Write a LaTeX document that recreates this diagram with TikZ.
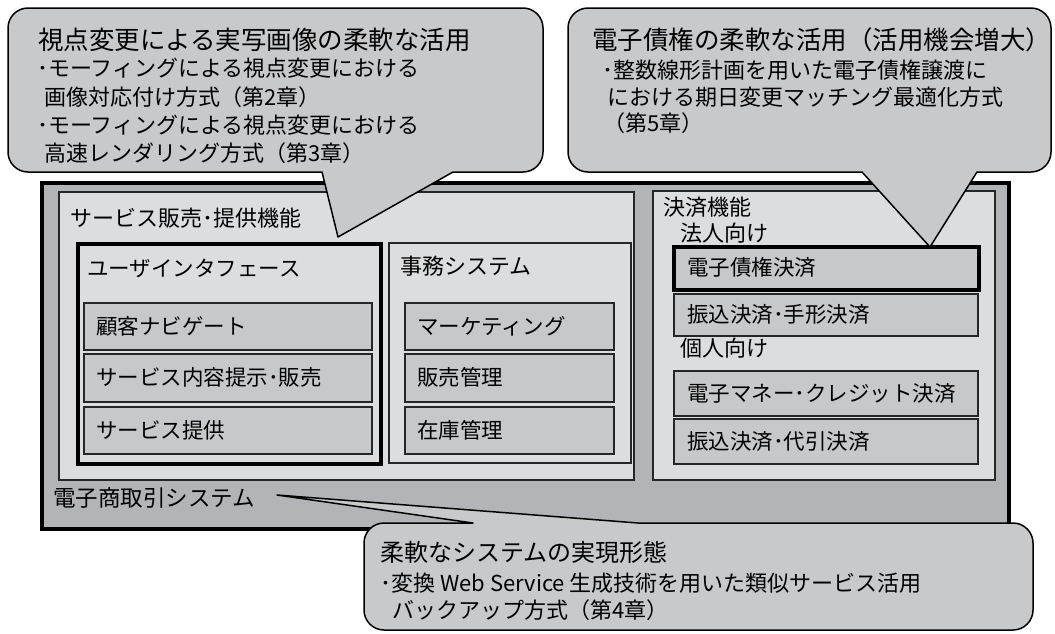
\documentclass[tikz,border=0pt]{standalone}
\usepackage{fontspec}
\setmainfont{Noto Sans CJK JP}
\definecolor{outerfill}{RGB}{179,180,183}
\definecolor{contfill}{RGB}{220,221,223}
\definecolor{itemfill}{RGB}{199,200,202}
\definecolor{bubfill}{RGB}{200,201,203}
\tikzset{
  boxbase/.style={anchor=north west, inner sep=0pt, rectangle},
  thickframe/.style={boxbase, draw=black, line width=4pt},
  contbox/.style={boxbase, draw=black!85, line width=1.5pt, fill=contfill},
  itembox/.style={boxbase, draw=black!85, line width=2pt, fill=itemfill},
  lbl/.style={anchor=west, inner sep=0pt, font=\fontsize{21.5}{24}\selectfont},
  hlbl/.style={anchor=west, inner sep=0pt, font=\fontsize{22}{26}\selectfont},
  btitle/.style={anchor=west, inner sep=0pt, font=\fontsize{25.5}{30}\selectfont},
  bline/.style={anchor=west, inner sep=0pt, font=\fontsize{22}{26}\selectfont},
  bubble/.style={draw=black, line width=1.5pt, fill=bubfill, line join=round},
}
\newcommand\mkbox[6]{\node[#1, minimum width={(#5-#3)*1pt}, minimum height={(#6-#4)*1pt}] (#2) at (#3,#4) {};}
\begin{document}
\begin{tikzpicture}[x=1pt,y=-1pt]
\useasboundingbox (0,0) rectangle (1055,633);
\fill[white] (0,0) rectangle (1055,633);
% outer system
\mkbox{thickframe, fill=outerfill}{outer}{40}{181}{1007}{527}
\mkbox{contbox}{svc}{58}{191}{633}{479}
\mkbox{contbox}{office}{388}{242}{630}{462}
\mkbox{thickframe, fill=contfill}{ui}{76}{242}{379}{462}
\mkbox{itembox}{nav}{83}{302}{371}{349}
\mkbox{itembox}{cont}{83}{353}{371}{401}
\mkbox{itembox}{prov}{83}{406}{371}{453}
\mkbox{itembox}{mkt}{404}{302}{613}{349}
\mkbox{itembox}{sales}{404}{353}{613}{401}
\mkbox{itembox}{stock}{404}{406}{613}{453}
\mkbox{contbox}{pay}{652}{190}{994}{479}
\node[hlbl] (lcorp) at (680,233) {法人向け};
\node[hlbl] (lpers) at (680,348) {個人向け};
\mkbox{thickframe, fill=itemfill}{ecb}{672}{245}{977}{288}
\mkbox{itembox}{trans}{673}{293}{977}{335}
\mkbox{itembox}{emoney}{673}{370}{977}{415}
\mkbox{itembox}{cod}{673}{418}{977}{463}
% labels
\node[hlbl] (lsvc) at (70,218) {サービス販売･提供機能};
\node[lbl] (lui) at (87,268) {ユーザインタフェース};
\node[lbl] (lnav) at (96,326) {顧客ナビゲート};
\node[lbl] (lcont) at (96,377) {サービス内容提示･販売};
\node[lbl] (lprov) at (96,430) {サービス提供};
\node[hlbl] (loffice) at (400,266) {事務システム};
\node[lbl] (lmkt) at (417,326) {マーケティング};
\node[lbl] (lsales) at (417,377) {販売管理};
\node[lbl] (lstock) at (417,430) {在庫管理};
\node[hlbl] (lpay) at (663,207) {決済機能};
\node[lbl] (lecb) at (687,267) {電子債権決済};
\node[lbl] (ltrans) at (687,314) {振込決済･手形決済};
\node[lbl] (lemoney) at (687,393) {電子マネー･クレジット決済};
\node[lbl] (lcod) at (687,441) {振込決済･代引決済};
\node[hlbl, font=\fontsize{22.5}{26}\selectfont] (lec) at (53,498) {電子商取引システム};
% bubbles
\coordinate (tipA) at (338,237);
\coordinate (tipB) at (930,247);
\coordinate (tipC) at (277,495);
\draw[bubble] (tipA) -- (322,172) -- (28,172) .. controls (17,172) and (8,163) .. (8,152) -- (8,28) .. controls (8,17) and (17,8) .. (28,8) -- (523,8) .. controls (534,8) and (543,17) .. (543,28) -- (543,152) .. controls (543,163) and (534,172) .. (523,172) -- (453,172) -- cycle;
\draw[bubble] (tipB) -- (862,172) -- (588,172) .. controls (577,172) and (568,163) .. (568,152) -- (568,28) .. controls (568,17) and (577,8) .. (588,8) -- (1031,8) .. controls (1042,8) and (1051,17) .. (1051,28) -- (1051,152) .. controls (1051,163) and (1042,172) .. (1031,172) -- (977,172) -- cycle;
\draw[bubble] (tipC) -- (638,523) -- (1013,523) .. controls (1024,523) and (1033,532) .. (1033,543) -- (1033,610) .. controls (1033,621) and (1024,630) .. (1013,630) -- (384,630) .. controls (373,630) and (364,621) .. (364,610) -- (364,543) .. controls (364,532) and (373,523) .. (384,523) -- (473,523) -- cycle;
% bubble texts
\node[btitle] (a0) at (38,40) {視点変更による実写画像の柔軟な活用};
\node[bline] (a1) at (37,68) {･モーフィングによる視点変更における};
\node[bline] (a2) at (44,97) {画像対応付け方式（第2章）};
\node[bline] (a3) at (37,125) {･モーフィングによる視点変更における};
\node[bline] (a4) at (44,153) {高速レンダリング方式（第3章）};
\node[btitle] (b0) at (592,40) {電子債権の柔軟な活用（活用機会増大）};
\node[bline] (b1) at (602,70) {･整数線形計画を用いた電子債権譲渡に};
\node[bline] (b2) at (607,97) {における期日変更マッチング最適化方式};
\node[bline] (b3) at (603,123) {（第5章）};
\node[btitle, font=\fontsize{24}{28}\selectfont] (c0) at (380,552) {柔軟なシステムの実現形態};
\node[bline] (c1) at (380,583) {･変換 Web Service 生成技術を用いた類似サービス活用};
\node[bline] (c2) at (392,610) {バックアップ方式（第4章）};
\end{tikzpicture}
\end{document}
